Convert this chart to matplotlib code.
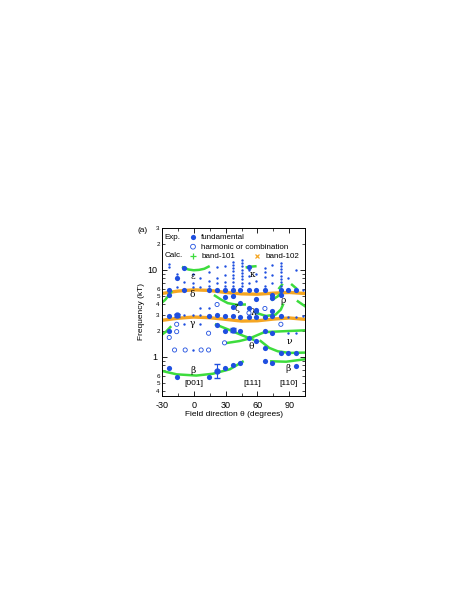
import numpy as np
import matplotlib
matplotlib.use("Agg")
import matplotlib.pyplot as plt
from matplotlib.ticker import FixedLocator, FuncFormatter

plt.rcParams['font.family'] = ['Liberation Sans', 'DejaVu Sans']
plt.rcParams['axes.unicode_minus'] = False

# --- experimental points (theta in degrees, frequency in kT) ---
fund_theta = [-23, -23, -23, -23, -23, -16, -16, -9, -9,
              14, 14, 14, 22, 22, 22, 29, 29, 29, 29, 29,
              37, 37, 37, 37, 37, 44, 44, 44, 44, 44,
              52, 52, 52, 52, 52, 59, 59, 59, 59, 59,
              67, 67, 67, 67, 67, 74, 74, 74, 74, 74, 74,
              82, 82, 82, 82, 89, 89, 96, 96, 96]
fund_f = [0.74, 2.0, 2.98, 5.1, 5.9, 0.59, 8.0, 10.4, 5.9,
          0.59, 2.95, 5.9, 3.0, 2.3, 5.9, 0.74, 2.0, 2.95, 4.9, 5.9,
          0.80, 2.95, 3.7, 5.0, 5.9, 0.86, 2.0, 2.9, 4.2, 5.9,
          1.65, 2.85, 3.6, 5.9, 10.9, 1.53, 2.85, 3.5, 4.6, 5.9,
          0.9, 1.26, 1.97, 2.9, 5.9, 0.84, 1.9, 2.95, 3.4, 4.8, 5.2,
          1.1, 2.95, 5.2, 5.9, 1.1, 5.9, 0.79, 1.11, 5.9]

small_theta = [-23, -23, -16, -16, -9, -9, -9, -1, -1, -1, -1, 6, 6, 6, 6, 6,
               14, 14, 14, 14, 22, 22, 22, 29, 29, 29, 29,
               37, 37, 37, 37, 37, 37, 37, 37,
               45, 45, 45, 45, 45, 45, 45, 45, 45,
               52, 52, 52, 59, 59, 67, 67, 67, 67, 74, 74, 74,
               82, 82, 82, 82, 82, 82, 82, 82, 89, 89, 89, 96, 96, 96, 103, 103, -1]
small_f = [10.7, 11.8, 6.4, 9.0, 7.3, 3.0, 2.37, 9.0, 7.0, 6.4, 3.0, 6.4, 8.0, 3.0, 3.6, 2.37,
           6.5, 7.5, 9.5, 3.6, 7.0, 8.0, 10.8, 6.5, 7.2, 8.8, 11.0,
           6.6, 7.3, 8.0, 8.8, 9.6, 10.4, 11.3, 12.3,
           6.5, 7.1, 7.8, 8.5, 9.3, 10.1, 11.0, 12.0, 13.0,
           7.0, 8.5, 10.0, 7.5, 9.0, 6.6, 8.2, 9.4, 10.5, 7.0, 8.8, 11.5,
           6.5, 7.2, 7.9, 8.6, 9.4, 10.2, 11.1, 12.0, 2.9, 1.9, 8.0, 2.9, 1.9, 10.0, 2.95, 5.9, 1.2]

harm_theta = [-23, -16, -16, -18, -8, 7, 14, 14, 29, 52, 59, 82, 67, 22]
harm_f = [1.67, 2.37, 1.95, 1.2, 1.2, 1.2, 1.2, 1.87, 1.45, 3.2, 3.3, 2.37, 3.6, 4.0]

err_theta = [-16, 22, 37]
err_f = [3.0, 0.69, 2.05]
err_lo = [0.12, 0.12, 0.1]
err_hi = [0.12, 0.13, 0.1]

# --- calculated curves, band-101 (green) ---
green_curves = [
    ([-10, -5, 0, 5, 10, 14], [10.7, 10.1, 9.9, 10.0, 10.3, 10.9]),
    ([50, 54, 58], [10.7, 10.9, 11.0]),
    ([-30, -27, -24, -21], [4.2, 4.5, 5.0, 5.6]),
    ([-30, -26, -22], [1.8, 1.95, 2.2]),
    ([20, 26, 32, 40, 48], [5.05, 4.54, 4.15, 3.98, 4.0]),
    ([21, 34, 46, 56], [2.35, 2.03, 1.76, 1.58]),
    ([32, 43, 52, 65], [1.45, 1.52, 1.62, 1.89]),
    ([63, 71, 79, 90, 105], [1.52, 1.27, 1.16, 1.11, 1.12]),
    ([68, 84, 105], [1.93, 1.97, 2.02]),
    ([73, 87, 105], [0.89, 0.88, 0.94]),
    ([-30, -16, 2.5, 18, 34, 46], [0.69, 0.63, 0.61, 0.64, 0.72, 0.88]),
    ([59, 68, 77, 82, 84], [3.2, 2.95, 3.06, 3.5, 3.98]),
    ([74, 79, 82], [4.54, 4.96, 5.4]),
    ([80.5, 83], [6.17, 6.74]),
    ([92.5, 96], [6.74, 6.2]),
    ([98, 105], [4.35, 3.8]),
]

# --- calculated curves, band-102 (orange) ---
orange_theta = [-30, -15, 0, 15, 30, 45, 60, 75, 90, 105]
orange_hi = [5.35, 5.7, 5.9, 5.8, 5.5, 5.3, 5.25, 5.4, 5.5, 5.35]
orange_lo = [2.63, 2.78, 2.87, 2.82, 2.7, 2.58, 2.6, 2.72, 2.8, 2.7]

# labels
greek = ['ε', 'δ', 'κ', 'ζ', 'λ', 'ρ', 'γ', 'θ', 'ν', 'β', 'β']
greek_theta = [-1, -1, 55, 41, 56, 84, -1, 54, 90, -1, 89]
greek_f = [8.4, 5.2, 8.8, 3.56, 3.2, 4.5, 2.41, 1.31, 1.52, 0.70, 0.73]
dir_labels = ['[001]', '[111]', '[110]']
dir_theta = [0, 55, 89]

blue = '#1f4fe0'
green = '#3ddc3d'
orange = '#f5a623'

fig = plt.figure(figsize=(4.69, 6.07), dpi=100)
ax = fig.add_axes([0.345, 0.3476, 0.306, 0.277])

ax.plot(orange_theta, orange_hi, color=orange, lw=2.4, zorder=1)
ax.plot(orange_theta, orange_lo, color=orange, lw=2.4, zorder=1)
for t, f in green_curves:
    ax.plot(t, f, color=green, lw=1.8, zorder=2)

ax.scatter(small_theta, small_f, s=3, color=blue, zorder=3, lw=0)
ax.scatter(harm_theta, harm_f, s=9, facecolors='none', edgecolors=blue, lw=0.6, zorder=3)
ax.scatter(fund_theta, fund_f, s=14, color=blue, zorder=4, lw=0)
ax.errorbar(err_theta, err_f, yerr=[err_lo, err_hi], fmt='o', ms=3.5, color=blue,
            capsize=2, elinewidth=0.8, zorder=4)

for g, t, f in zip(greek, greek_theta, greek_f):
    ax.text(t, f, g, fontsize=6.5, family=['DejaVu Serif'], ha='center', va='center')
for lab, t in zip(dir_labels, dir_theta):
    ax.text(t, 0.5, lab, fontsize=6, ha='center', va='center')

ax.set_yscale('log')
ax.set_xlim(-30, 105)
ax.set_ylim(0.355, 30.4)

ax.xaxis.set_major_locator(FixedLocator([-30, 0, 30, 60, 90]))
ax.xaxis.set_minor_locator(FixedLocator([-15, 15, 45, 75]))
ax.yaxis.set_major_locator(FixedLocator([1, 10]))
minor_y = [0.4, 0.5, 0.6, 0.7, 0.8, 0.9, 2, 3, 4, 5, 6, 7, 8, 9, 20, 30]
ax.yaxis.set_minor_locator(FixedLocator(minor_y))
ax.yaxis.set_major_formatter(FuncFormatter(lambda v, p: '%g' % v))
labelled = {0.4: '4', 0.5: '5', 0.6: '6', 2: '2', 3: '3', 4: '4', 5: '5', 6: '6', 20: '2', 30: '3'}
ax.yaxis.set_minor_formatter(FuncFormatter(lambda v, p: labelled.get(round(v, 2), '')))

ax.tick_params(which='both', direction='in', top=True, right=True)
ax.tick_params(which='major', length=3.5, width=0.6, labelsize=6.5)
ax.tick_params(which='minor', length=2, width=0.5, labelsize=4.5, pad=1.5)
ax.tick_params(axis='y', which='major', pad=3)
for s in ax.spines.values():
    s.set_linewidth(0.7)

ax.set_xlabel('Field direction θ (degrees)', fontsize=6, labelpad=0.5)
ax.set_ylabel('Frequency (kT)', fontsize=6, labelpad=2)

# legend
h1 = ax.scatter([], [], s=14, color=blue, lw=0)
h2 = ax.scatter([], [], s=12, facecolors='none', edgecolors=blue, lw=0.6)
leg1 = ax.legend([h1, h2], ['fundamental', 'harmonic or combination'], loc='upper left',
                 bbox_to_anchor=(0.15, 1.0), frameon=False, fontsize=5.8, handlelength=1,
                 handletextpad=0.5, labelspacing=0.25, borderpad=0.2)
ax.add_artist(leg1)
h3, = ax.plot([], [], '+', color=green, ms=4, mew=0.9)
h4, = ax.plot([], [], 'x', color=orange, ms=3.5, mew=0.9)
ax.legend([h3, h4], ['band-101', 'band-102'], loc='upper left', bbox_to_anchor=(0.15, 0.885),
          frameon=False, fontsize=5.8, handlelength=1, handletextpad=0.5, ncol=2,
          columnspacing=2.3, borderpad=0.2)
ax.text(0.02, 0.94, 'Exp.', transform=ax.transAxes, fontsize=5.8, va='center')
ax.text(0.02, 0.834, 'Calc.', transform=ax.transAxes, fontsize=5.8, va='center')

fig.text(0.294, 0.617, '(a)', fontsize=6)

fig.savefig('out.png', dpi=100)
